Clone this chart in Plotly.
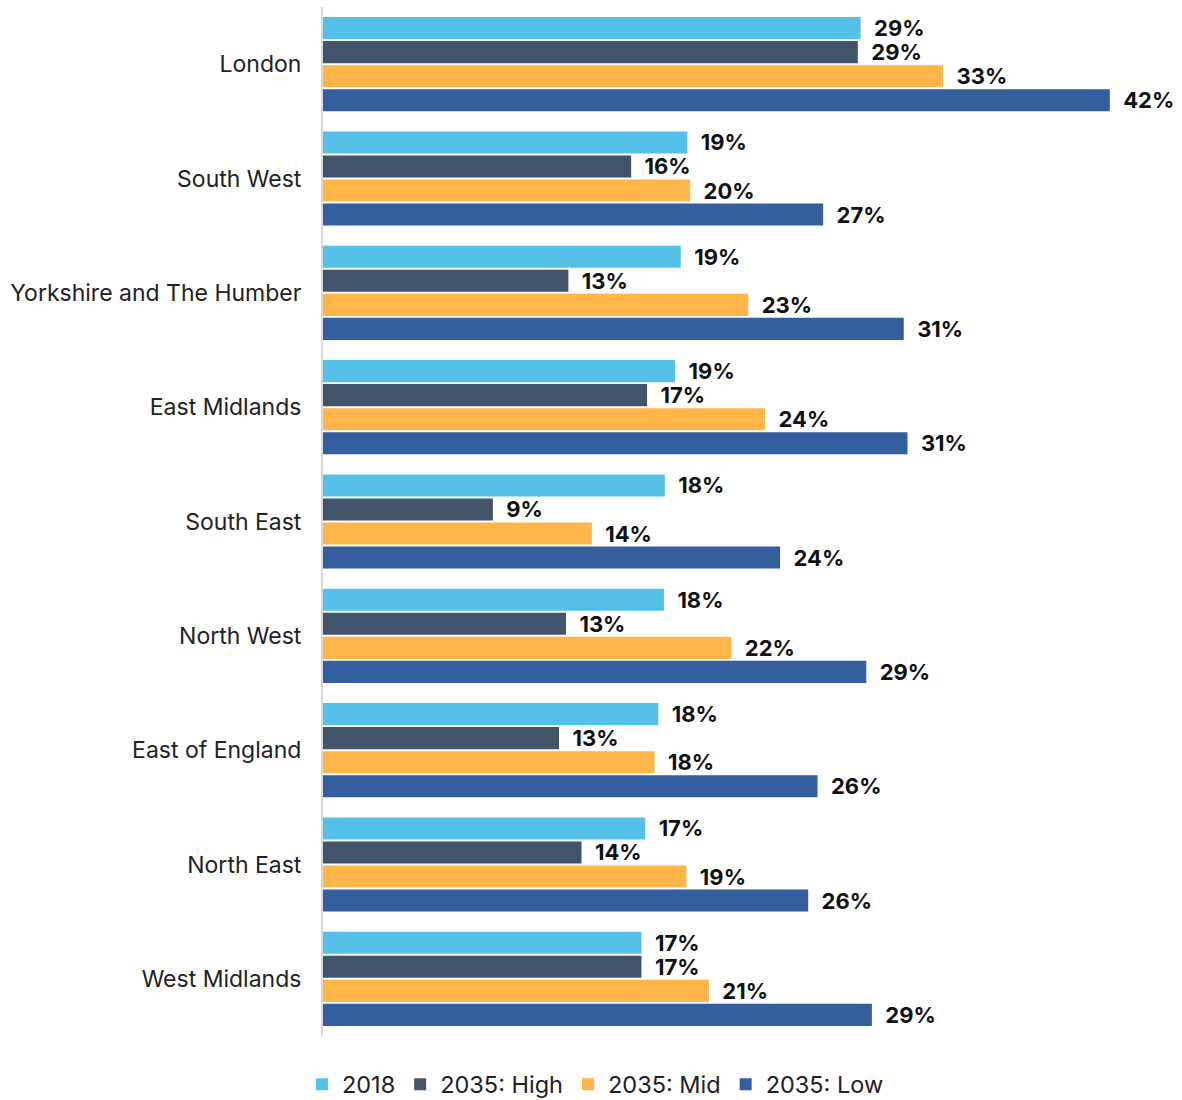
import plotly.graph_objects as go

# Regions, top to bottom
regions = [
    "London", "South West", "Yorkshire and The Humber", "East Midlands",
    "South East", "North West", "East of England", "North East", "West Midlands",
]

# Share (%) for each scenario, same order as regions
share_2018 = [28.7, 19.45, 19.1, 18.8, 18.25, 18.2, 17.9, 17.2, 17.0]
share_2035_high = [28.55, 16.45, 13.1, 17.3, 9.07, 12.97, 12.6, 13.8, 17.0]
share_2035_mid = [33.1, 19.6, 22.7, 23.6, 14.35, 21.8, 17.7, 19.4, 20.6]
share_2035_low = [42.0, 26.7, 31.0, 31.2, 24.4, 29.0, 26.4, 25.9, 29.3]

series = [
    ("2018", share_2018, "#56C1E8"),
    ("2035: High", share_2035_high, "#41546A"),
    ("2035: Mid", share_2035_mid, "#FFB547"),
    ("2035: Low", share_2035_low, "#355E9E"),
]

fig = go.Figure()
for name, vals, color in series:
    fig.add_trace(go.Bar(
        y=regions, x=vals, name=name, orientation="h",
        marker=dict(color=color, line=dict(width=0)),
        texttemplate="\u00a0\u00a0%{x:.0f}%",
        textposition="outside",
        constraintext="none",
        textfont=dict(family="Inter", size=22, color="#111111", weight="bold"),
        cliponaxis=False,
        hoverinfo="skip",
    ))

fig.update_layout(
    width=1182, height=1100,
    margin=dict(l=323, r=16, t=7, b=64, autoexpand=False),
    barmode="group", bargap=0.16, bargroupgap=0.08,
    plot_bgcolor="white", paper_bgcolor="white",
    font=dict(family="Inter", size=23, color="#222222"),
    legend=dict(
        orientation="h", x=-0.025, xanchor="left", y=-0.047, yanchor="middle",
        font=dict(family="Inter", size=23.5, color="#222222"),
        itemwidth=30, tracegroupgap=0,
    ),
    showlegend=True,
)
fig.update_xaxes(range=[0, 45], visible=False, showgrid=False, zeroline=False)
fig.update_yaxes(
    autorange="reversed", showline=True, linecolor="#d9d9d9", linewidth=2,
    showgrid=False, ticks="", ticklabelstandoff=15,
    tickfont=dict(family="Inter", size=23, color="#222222"),
)

fig.write_html("out.html")
